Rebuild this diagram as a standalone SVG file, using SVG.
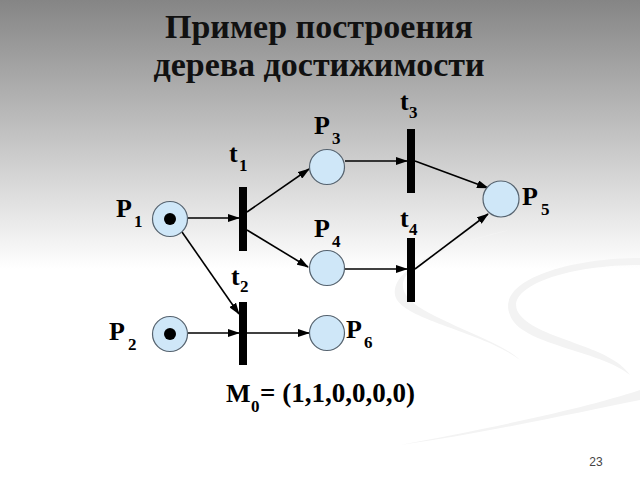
<svg xmlns="http://www.w3.org/2000/svg" width="640" height="480" viewBox="0 0 640 480">
<defs>
<linearGradient id="bg" x1="0" y1="0" x2="0" y2="1">
<stop offset="0" stop-color="#858585"/>
<stop offset="0.56" stop-color="#ffffff"/>
<stop offset="1" stop-color="#ffffff"/>
</linearGradient>
<marker id="ah" markerWidth="12" markerHeight="8" refX="11" refY="4" orient="auto" markerUnits="userSpaceOnUse">
<path d="M0,0 L12,4 L0,8 Z" fill="#000"/>
</marker>
<style>
.pl{fill:#cfe7f8;stroke:#56636f;stroke-width:1.2}
.tok{fill:#000}
.bar{fill:#000}
.ar{stroke:#000;stroke-width:1.6;fill:none;marker-end:url(#ah)}
.lb{font-family:'Liberation Serif','DejaVu Serif',serif;font-weight:bold;font-size:26px;fill:#000}
.sb{font-size:17px}
.tt{font-family:'Liberation Serif','DejaVu Serif',serif;font-weight:bold;font-size:34px;fill:#111;text-anchor:middle}
</style>
</defs>
<rect x="0" y="0" width="640" height="480" fill="url(#bg)"/>
<g id="swoosh" fill="#f3f3f3">
<path d="M640,265 C560,265 500,290 520,315 C540,340 610,345 630,375 C600,350 520,345 510,315 C495,280 570,258 640,258 Z"/>
<path d="M640,390 C580,410 480,430 400,445 C490,432 580,412 640,400 Z"/>
<path d="M510,230 C450,245 380,270 410,300 C430,320 500,340 520,360 C480,330 400,320 395,295 C390,265 460,240 510,230 Z"/>
</g>
<g id="title">
<text class="tt" x="319" y="38">Пример построения</text>
<text class="tt" x="319" y="76">дерева достижимости</text>
</g>
<g id="connectors">
<line class="ar" x1="188" y1="218" x2="239" y2="218"/>
<line class="ar" x1="247" y1="212" x2="309" y2="169"/>
<line class="ar" x1="247" y1="230" x2="308" y2="267"/>
<line class="ar" x1="182" y1="232" x2="239" y2="314"/>
<line class="ar" x1="188" y1="333" x2="239" y2="333"/>
<line class="ar" x1="247" y1="333" x2="309" y2="333"/>
<line class="ar" x1="345" y1="161" x2="407" y2="161"/>
<line class="ar" x1="345" y1="269" x2="407" y2="269"/>
<line class="ar" x1="415" y1="161" x2="488" y2="188"/>
<line class="ar" x1="415" y1="269" x2="488" y2="214"/>
</g>
<g id="P1"><circle class="pl" cx="170" cy="219" r="17.5"/><circle class="tok" cx="170" cy="219" r="6"/>
<text class="lb" x="116" y="217">P<tspan class="sb" x="134" y="227">1</tspan></text></g>
<g id="P2"><circle class="pl" cx="170" cy="334" r="17.5"/><circle class="tok" cx="170" cy="334" r="6"/>
<text class="lb" x="109" y="340">P<tspan class="sb" x="128" y="350">2</tspan></text></g>
<g id="P3"><circle class="pl" cx="327" cy="167" r="17.5"/>
<text class="lb" x="314" y="134">P<tspan class="sb" x="332" y="144">3</tspan></text></g>
<g id="P4"><circle class="pl" cx="327" cy="268" r="17.5"/>
<text class="lb" x="314" y="237">P<tspan class="sb" x="332" y="247">4</tspan></text></g>
<g id="P5"><circle class="pl" cx="501" cy="199" r="18"/>
<text class="lb" x="522" y="205">P<tspan class="sb" x="541" y="215">5</tspan></text></g>
<g id="P6"><circle class="pl" cx="327" cy="333" r="17.5"/>
<text class="lb" x="346" y="338">P<tspan class="sb" x="364" y="348">6</tspan></text></g>
<g id="t1"><rect class="bar" x="239" y="187" width="8" height="64"/>
<text class="lb" x="229" y="162">t<tspan class="sb" x="239" y="171">1</tspan></text></g>
<g id="t2"><rect class="bar" x="239" y="302" width="8" height="63"/>
<text class="lb" x="231" y="285">t<tspan class="sb" x="240" y="292">2</tspan></text></g>
<g id="t3"><rect class="bar" x="407" y="129" width="8" height="64"/>
<text class="lb" x="400" y="110">t<tspan class="sb" x="409" y="118">3</tspan></text></g>
<g id="t4"><rect class="bar" x="407" y="238" width="8" height="64"/>
<text class="lb" x="400" y="227">t<tspan class="sb" x="409" y="235">4</tspan></text></g>
<g id="marking">
<text class="lb" x="226" y="402">M<tspan class="sb" x="251" y="412">0</tspan><tspan x="260" y="402" font-size="27">= (1,1,0,0,0,0)</tspan></text>
</g>
<text x="596" y="466" font-family="'Liberation Sans',Arial,sans-serif" font-size="12" fill="#444" text-anchor="middle">23</text>
</svg>
